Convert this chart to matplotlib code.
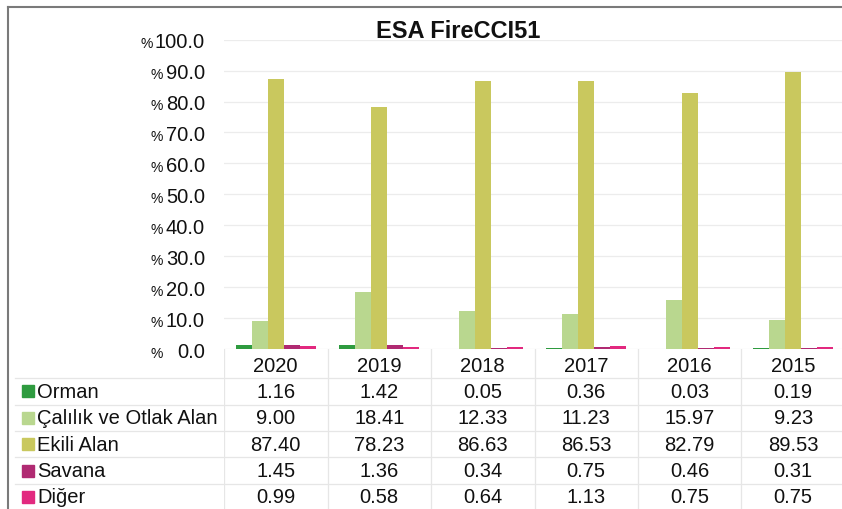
import matplotlib
matplotlib.use("Agg")
import matplotlib.pyplot as plt
import matplotlib.transforms as mtransforms
from matplotlib.lines import Line2D
import numpy as np

plt.rcParams['font.family'] = ['Liberation Sans', 'DejaVu Sans']

years = ["2020", "2019", "2018", "2017", "2016", "2015"]
series_names = ["Orman", "Çalılık ve Otlak Alan", "Ekili Alan", "Savana", "Diğer"]
orman = [1.16, 1.42, 0.05, 0.36, 0.03, 0.19]
calilik = [9.00, 18.41, 12.33, 11.23, 15.97, 9.23]
ekili = [87.40, 78.23, 86.63, 86.53, 82.79, 89.53]
savana = [1.45, 1.36, 0.34, 0.75, 0.46, 0.31]
diger = [0.99, 0.58, 0.64, 1.13, 0.75, 0.75]
yticks = [0, 10, 20, 30, 40, 50, 60, 70, 80, 90, 100]
title = "ESA FireCCI51"

series = [orman, calilik, ekili, savana, diger]
colors = ["#2e9b3f", "#b9d78f", "#c9c85e", "#b02a72", "#e2297f"]

W, H = 842, 510
fig = plt.figure(figsize=(W / 100, H / 100), dpi=100)

def fx(px):
    return px / W

def fy(py):
    return 1 - py / H

ax_left, ax_right = 224, 845
ax_top, ax_bot = 40.7, 350
ax = fig.add_axes([fx(ax_left), fy(ax_bot), (ax_right - ax_left) / W, (ax_bot - ax_top) / H])

x = np.arange(len(years))
bw = 0.155
for i, (vals, c) in enumerate(zip(series, colors)):
    ax.bar(x + (i - 2) * bw, vals, width=bw, color=c, zorder=3)

ax.set_xlim(-0.5, len(years) - 0.5)
ax.set_ylim(0, 100)
ax.set_yticks(yticks)
ax.grid(axis='y', color='#ececec', lw=0.9, zorder=0)
ax.tick_params(left=False, bottom=False, labelleft=False, labelbottom=False)
for s in ax.spines.values():
    s.set_visible(False)

# y tick labels with small % sign
ytr = ax.get_yaxis_transform()
off = mtransforms.offset_copy(ytr, fig=fig, x=0, y=-5.4, units='points')
for v in yticks:
    ax.text(-0.0306, v, f"{v:.1f}", transform=off, ha='right', va='baseline',
            fontsize=14.5, color='#111111', clip_on=False)
    pct_x = -0.1144 if v >= 100 else -0.0982
    ax.text(pct_x, v, "%", transform=off, ha='right', va='baseline',
            fontsize=10, color='#111111', clip_on=False)

fig.text(fx(458), fy(31.5), title, ha='center', va='center', fontsize=17,
         fontweight='bold', color='#111111')

# data table
row_h = 26.4
tab_top_row = -(366 - 350) / row_h
tab_bot_row = (510 - 366) / row_h
axt = fig.add_axes([fx(ax_left), 0, (ax_right - ax_left) / W, fy(ax_bot)])
axt.set_xlim(-0.5, len(years) - 0.5)
axt.set_ylim(tab_bot_row, tab_top_row)
axt.axis('off')

line_c = '#e6e6e6'
blend = mtransforms.blended_transform_factory(fig.transFigure, axt.transData)
for r in range(len(series_names)):
    axt.add_line(Line2D([fx(15), 1], [r + 0.5, r + 0.5], transform=blend,
                        color=line_c, lw=0.9, clip_on=False))
for c in range(len(years)):
    axt.axvline(c - 0.5, color=line_c, lw=0.9)

for c, yr in enumerate(years):
    axt.text(c, 0, yr, ha='center', va='center', fontsize=14.5, color='#111111')
for r, (name, vals, col) in enumerate(zip(series_names, series, colors)):
    yrow = r + 1
    axt.plot([fx(28)], [yrow], marker='s', markersize=8, color=col,
             transform=blend, clip_on=False)
    axt.text(fx(37), yrow, name, transform=blend, ha='left', va='center',
             fontsize=14.5, color='#111111', clip_on=False)
    for c, v in enumerate(vals):
        axt.text(c, yrow, f"{v:.2f}", ha='center', va='center', fontsize=14.5,
                 color='#111111')

# outer frame
fig.add_artist(Line2D([fx(8), 1], [fy(8), fy(8)], transform=fig.transFigure,
                      color='#7a7a7a', lw=1.5))
fig.add_artist(Line2D([fx(8), fx(8)], [fy(8), 0], transform=fig.transFigure,
                      color='#7a7a7a', lw=1.5))

fig.savefig("out.png", dpi=100)
